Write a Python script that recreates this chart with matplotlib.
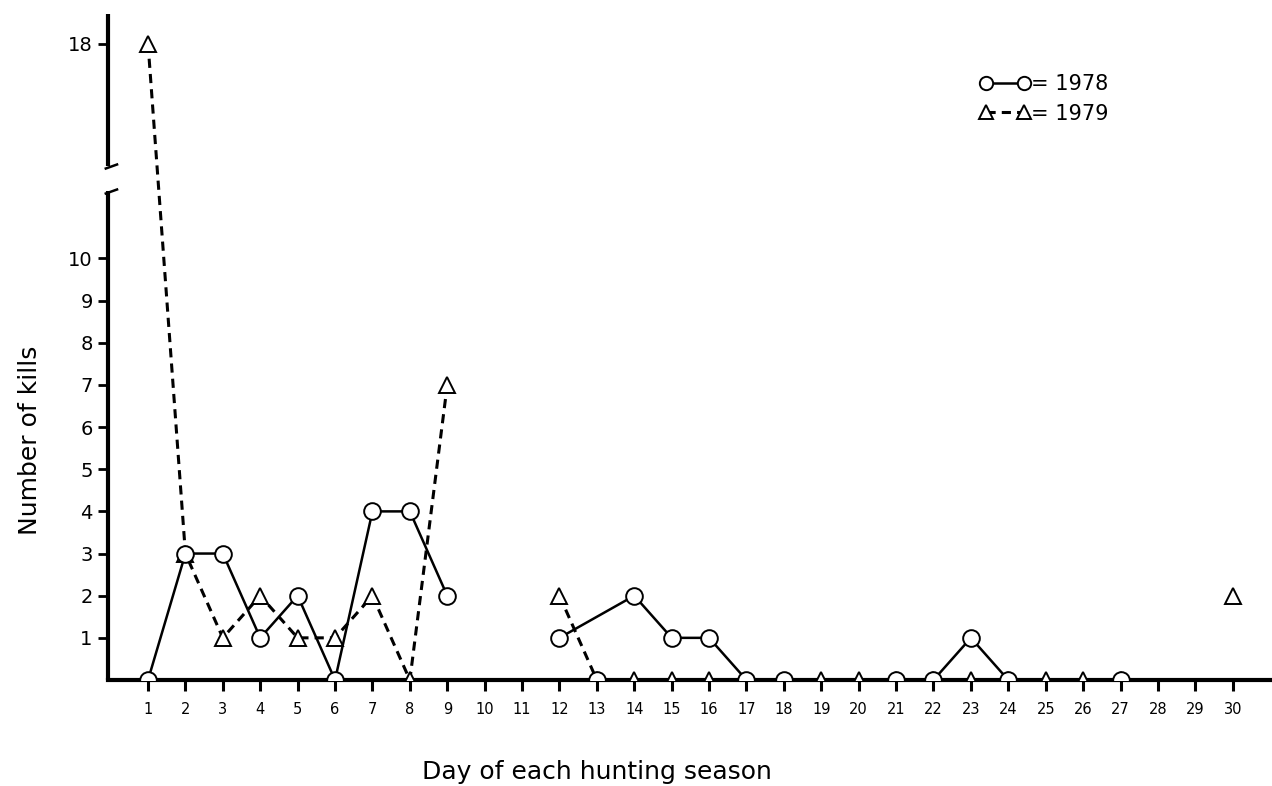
import matplotlib
matplotlib.use("Agg")
import matplotlib.pyplot as plt
import numpy as np

nan = np.nan

# Data
days = np.arange(1, 31)
kills_1978 = [0, 3, 3, 1, 2, 0, 4, 4, 2, nan, nan, 1, 0, 2, 1, 1, 0, 0, nan, nan,
              0, 0, 1, 0, nan, nan, 0, nan, nan, nan]
kills_1979 = [18, 3, 1, 2, 1, 1, 2, 0, 7, nan, nan, 2, 0, 0, 0, 0, nan, nan, 0, 0,
              0, 0, 0, 0, 0, 0, 0, nan, nan, 2]
# the 1978 line in the original runs straight from day 12 to day 14
line_skip_1978 = [13]

y_ticks = [1, 2, 3, 4, 5, 6, 7, 8, 9, 10, 18]

# broken y axis: squeeze 11.6..15.1 into a small gap
brk_lo, brk_hi = 11.6, 15.1
src = [-10, 0, brk_lo, brk_hi, 40]
dst = [-10, 0, brk_lo, brk_lo + 0.6, brk_lo + 0.6 + (40 - brk_hi)]


def fwd(v):
    return np.interp(v, src, dst)


def inv(t):
    return np.interp(t, dst, src)


plt.rcParams['font.family'] = ['DejaVu Sans']

fig = plt.figure(figsize=(12.72, 7.86), dpi=100)
ax = fig.add_axes([108 / 1272, 106 / 786, 1 - 108 / 1272, (680 - 14) / 786])
ax.set_yscale('function', functions=(fwd, inv))

k78 = np.array(kills_1978, dtype=float)
k79 = np.array(kills_1979, dtype=float)

# 1979: dashed line with triangles
ax.plot(days, k79, ls=(0, (3, 2)), lw=2.2, color='black', marker='^', ms=12,
        mfc='white', mec='black', mew=1.4, zorder=3, label='= 1979')

# 1978: solid line with circles
keep = ~np.isin(days, line_skip_1978)
ax.plot(days[keep], k78[keep], ls='-', lw=1.8, color='black', marker='o', ms=12,
        mfc='white', mec='black', mew=1.4, zorder=4, label='= 1978')
skip = np.isin(days, line_skip_1978)
ax.plot(days[skip], k78[skip], ls='none', marker='o', ms=12,
        mfc='white', mec='black', mew=1.4, zorder=4)

ax.set_xlim(-0.07, 31.05)
ax.set_ylim(0, 18.7)

# spines
for s in ['top', 'right', 'left']:
    ax.spines[s].set_visible(False)
ax.spines['bottom'].set_linewidth(3)

ytr = ax.get_yaxis_transform()
ax.plot([0, 0], [0, brk_lo], transform=ytr, color='black', lw=3, clip_on=False,
        solid_capstyle='butt', zorder=5)
ax.plot([0, 0], [brk_hi, 18.7], transform=ytr, color='black', lw=3, clip_on=False,
        solid_capstyle='butt', zorder=5)
# small slanted break ticks, mostly to the right of the axis line
brk_mark = [(-0.4, -0.25), (1, 0.25)]
ax.plot([0, 0], [brk_lo, brk_hi], transform=ytr, ls='none', marker=brk_mark,
        ms=14, mew=1.8, color='black', clip_on=False, zorder=5)

ax.set_xticks(days)
ax.set_xticklabels([str(d) for d in days], fontsize=10.5)
ax.set_yticks(y_ticks)
ax.set_yticklabels([str(v) for v in y_ticks], fontsize=14)
ax.tick_params(axis='x', direction='out', length=8, width=2.2, pad=8)
ax.tick_params(axis='y', direction='out', length=7, width=2, pad=4)

fig.text(597 / 1272, 1 - 772 / 786, 'Day of each hunting season', fontsize=18,
         ha='center', va='center')
fig.text(30 / 1272, 1 - 440 / 786, 'Number of kills', fontsize=18, rotation=90,
         ha='center', va='center')

h, l = ax.get_legend_handles_labels()
ax.legend(h[::-1], l[::-1], loc='upper left', bbox_to_anchor=(0.74, 0.925),
          frameon=False, numpoints=2, markerscale=0.8, handlelength=2.4,
          handletextpad=0.05, fontsize=15, labelspacing=0.45, borderpad=0)

fig.savefig('out.png', dpi=100)
